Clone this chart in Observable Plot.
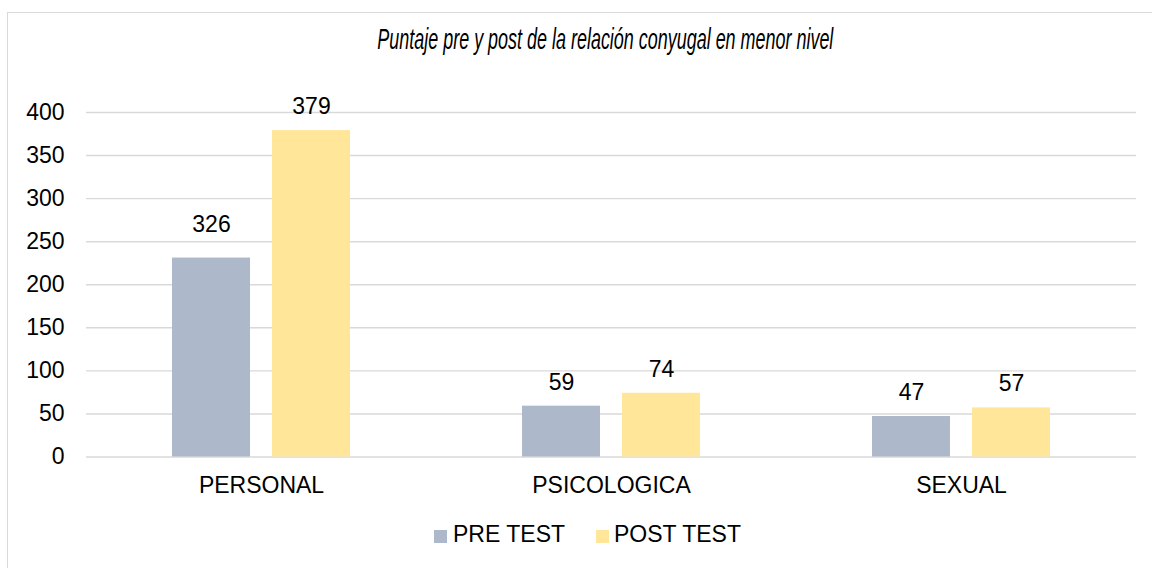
<!DOCTYPE html>
<html>
<head>
<meta charset="utf-8">
<script src="https://cdn.jsdelivr.net/npm/d3@7"></script>
<script src="https://cdn.jsdelivr.net/npm/@observablehq/plot@0.6"></script>
<style>
  html, body { margin: 0; padding: 0; background: #fff; width: 1152px; height: 568px; overflow: hidden; }
  #wrap { position: relative; width: 1152px; height: 568px; font-family: "Liberation Sans", Arial, sans-serif; color: #000; }
  #frame { position: absolute; left: 7px; top: 12px; width: 1300px; height: 700px; border: 1.5px solid #D9D9D9; box-sizing: border-box; }
  #title { position: absolute; top: 22.5px; left: 0; font-family: "Liberation Sans Narrow", "Arial Narrow", "Liberation Sans", sans-serif; font-style: italic; font-size: 29px; line-height: normal; white-space: nowrap; transform-origin: center center; }
  #chart { position: absolute; left: 0; top: 70px; }
  #legend { position: absolute; top: 521px; left: 0; width: 1152px; height: 30px; font-size: 23px; }
  .sw { position: absolute; top: 9px; width: 12.5px; height: 12.5px; }
  .lt { position: absolute; top: 0; white-space: nowrap; }
</style>
</head>
<body>
<div id="wrap">
  <div id="frame"></div>
  <span id="title">Puntaje pre y post de la relación conyugal en menor nivel</span>
  <div id="chart"></div>
  <div id="legend"></div>
</div>
<script>
const categories = ["PERSONAL", "PSICOLOGICA", "SEXUAL"];
const seriesNames = ["PRE TEST", "POST TEST"];
const preValues = [231, 59, 47];
const postValues = [379, 74, 57];
const preLabels = ["326", "59", "47"];
const postLabels = ["379", "74", "57"];
const yTicks = [0, 50, 100, 150, 200, 250, 300, 350, 400];
const seriesColors = ["#ADB9CA", "#FFE699"];

const data = [];
categories.forEach((c, i) => {
  data.push({cat: c, series: seriesNames[0], value: preValues[i], label: preLabels[i]});
  data.push({cat: c, series: seriesNames[1], value: postValues[i], label: postLabels[i]});
});
const matching = data.filter(d => d.label === String(d.value));
const moved = data.filter(d => d.label !== String(d.value));

const plot = Plot.plot({
  width: 1152,
  height: 440,
  marginTop: 42,
  marginBottom: 53.5,
  marginLeft: 86,
  marginRight: 16,
  style: {fontFamily: '"Liberation Sans", Arial, sans-serif', fontSize: "23px", color: "#000", background: "transparent"},
  fx: {domain: categories, padding: 0, label: null, axis: null},
  x: {domain: seriesNames, paddingInner: 0.22, paddingOuter: 0.86, axis: null},
  y: {domain: [0, 400], axis: null},
  color: {domain: seriesNames, range: seriesColors},
  marks: [
    Plot.ruleY(yTicks, {stroke: "#D9D9D9", strokeWidth: 1.4}),
    Plot.barY(data, {fx: "cat", x: "series", y: "value", fill: "series"}),
    Plot.text(matching, {fx: "cat", x: "series", y: "value", text: "label", dy: -24, fontSize: 23, fill: "#000"}),
    Plot.text(moved, {fx: "cat", x: "series", y: "value", text: "label", dy: -33, fontSize: 23, fill: "#000"}),
    Plot.axisY({ticks: yTicks, tickSize: 0, tickPadding: 22, fontSize: 23, label: null}),
    Plot.axisFx({anchor: "bottom", tickSize: 0, tickPadding: 20, fontSize: 23, label: null})
  ]
});
document.getElementById("chart").appendChild(plot);

// title: condensed italic, centred over the plot
const title = document.getElementById("title");
const tw = title.getBoundingClientRect().width;
title.style.left = (605 - tw / 2) + "px";
title.style.transform = "scaleX(" + (456 / tw) + ")";

const legend = document.getElementById("legend");
const swX = [434, 596];
const txX = [453, 614];
seriesNames.forEach((s, i) => {
  const sw = document.createElement("div");
  sw.className = "sw";
  sw.style.left = swX[i] + "px";
  sw.style.background = seriesColors[i];
  legend.appendChild(sw);
  const t = document.createElement("div");
  t.className = "lt";
  t.style.left = txX[i] + "px";
  t.textContent = s;
  legend.appendChild(t);
});
</script>
</body>
</html>
